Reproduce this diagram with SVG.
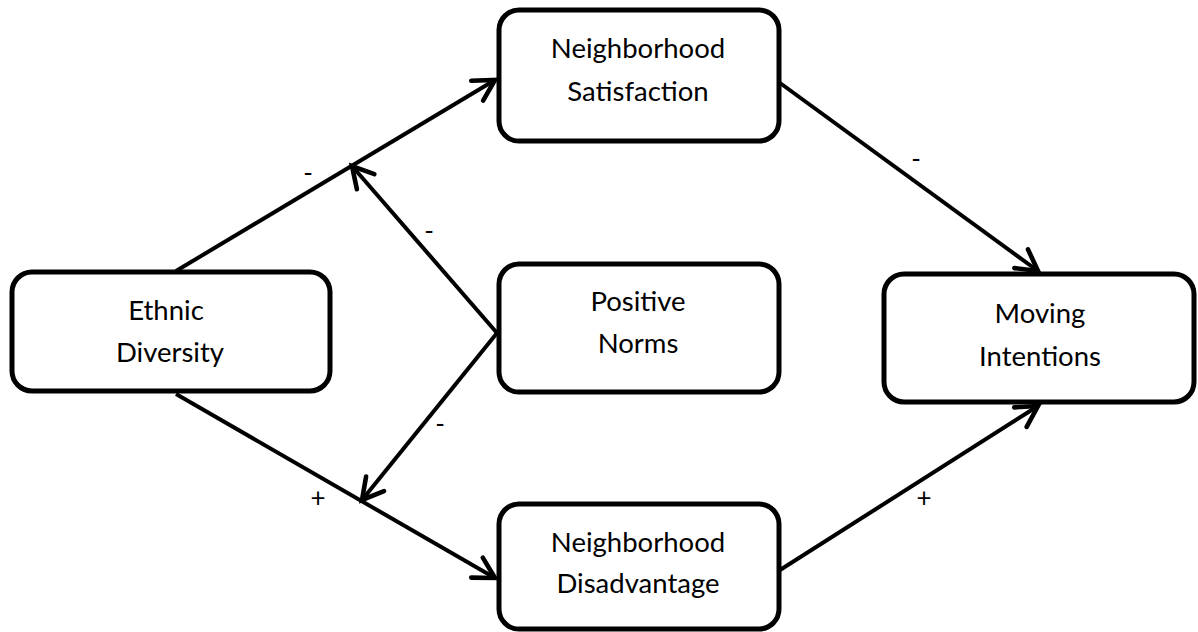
<svg xmlns="http://www.w3.org/2000/svg" width="1198" height="632" viewBox="0 0 1198 632">
<style>
.box{fill:#fff;stroke:#000;stroke-width:5}
.t{font-family:Lato,"Open Sans","Liberation Sans",sans-serif;font-size:27.5px;fill:#000;text-anchor:middle}
.l{font-family:Lato,"Liberation Sans",sans-serif;font-size:26px;fill:#000;text-anchor:middle}
.c{stroke:#000;stroke-width:4;fill:none;marker-end:url(#ah)}
</style>
<defs>
<marker id="ah" markerUnits="userSpaceOnUse" markerWidth="30" markerHeight="30" viewBox="-22 -12 26 24" refX="0" refY="0" orient="auto">
<path d="M-18,-10 L0,0 L-18,10" fill="none" stroke="#000" stroke-width="4" stroke-linecap="round" stroke-linejoin="miter"/>
</marker>
</defs>
<rect width="1198" height="632" fill="#fff"/>
<g id="connectors">
<line class="c" x1="176" y1="271" x2="495" y2="80"/>
<line class="c" x1="497" y1="333" x2="352" y2="166"/>
<line class="c" x1="497" y1="333" x2="362" y2="500"/>
<line class="c" x1="176" y1="394" x2="495" y2="578"/>
<line class="c" x1="780" y1="83" x2="1038" y2="271"/>
<line class="c" x1="780" y1="570" x2="1038" y2="406"/>
<text class="l" x="308" y="182">-</text>
<text class="l" x="429" y="240">-</text>
<text class="l" x="440" y="433">-</text>
<text class="l" x="318" y="507">+</text>
<text class="l" x="916" y="168">-</text>
<text class="l" x="924" y="507">+</text>
</g>
<g id="ethnic-diversity">
<rect class="box" x="12" y="272" width="318" height="119" rx="20"/>
<text class="t" x="166" y="320">Ethnic</text>
<text class="t" x="170" y="362">Diversity</text>
</g>
<g id="neighborhood-satisfaction">
<rect class="box" x="499" y="10" width="280" height="131" rx="20"/>
<text class="t" x="638" y="58">Neighborhood</text>
<text class="t" x="638" y="101">Satisfaction</text>
</g>
<g id="positive-norms">
<rect class="box" x="499" y="264" width="280" height="128" rx="20"/>
<text class="t" x="638" y="311">Positive</text>
<text class="t" x="638" y="353">Norms</text>
</g>
<g id="moving-intentions">
<rect class="box" x="884" y="274" width="310" height="128" rx="20"/>
<text class="t" x="1040" y="323">Moving</text>
<text class="t" x="1040" y="366">Intentions</text>
</g>
<g id="neighborhood-disadvantage">
<rect class="box" x="499" y="504" width="280" height="125" rx="20"/>
<text class="t" x="638" y="552">Neighborhood</text>
<text class="t" x="638" y="593">Disadvantage</text>
</g>
</svg>
